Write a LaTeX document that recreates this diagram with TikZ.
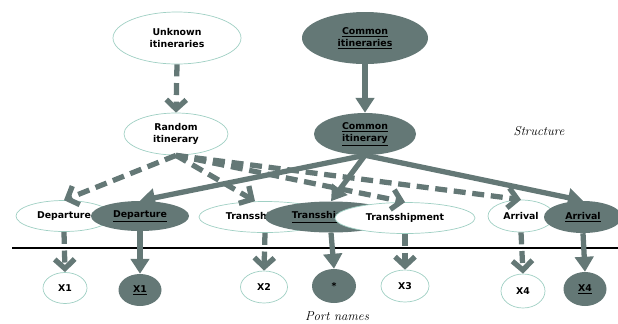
\documentclass[tikz,border=0pt]{standalone}
\usepackage{fontspec}
\newfontfamily\nodefont{DejaVu Sans}
\usetikzlibrary{shapes.geometric,arrows.meta}
\definecolor{slate}{RGB}{100,120,118}
\definecolor{rim}{RGB}{160,208,196}
\tikzset{
  open/.style={ellipse,draw=rim,line width=0.6pt,fill=white,inner sep=0pt,align=center,
    font=\nodefont\bfseries\fontsize{8}{10.5}\selectfont},
  known/.style={ellipse,fill=slate,inner sep=0pt,align=center,
    font=\nodefont\bfseries\fontsize{8}{10.5}\selectfont},
  guess/.style={draw=slate,line width=4.5pt,dash pattern=on 0.36cm off 0.2cm,
    -{Straight Barb[length=0.28cm,width=0.6cm]}},
  sure/.style={draw=slate,line width=4.5pt,-{Triangle[length=0.45cm,width=0.55cm]}},
  caption/.style={font=\itshape\fontsize{11}{13}\selectfont}
}
\begin{document}
\begin{tikzpicture}[x=0.03cm,y=-0.03cm]
  \useasboundingbox (0,0) rectangle (618,323);
  \node[open,minimum width=3.84cm,minimum height=1.56cm] (unk) at (177,38) {Unknown\\itineraries};
  \node[known,minimum width=3.78cm,minimum height=1.56cm] (comis) at (365,38) {\underline{Common}\\\underline{itineraries}};
  \node[open,minimum width=3.12cm,minimum height=1.26cm] (rand) at (176,134) {Random\\itinerary};
  \node[known,minimum width=3.06cm,minimum height=1.26cm] (comi) at (365,134) {\underline{Common}\\\underline{itinerary}};
  \node[caption] (struct) at (539,131) {Structure};

  \node[open,minimum width=2.88cm,minimum height=0.93cm] (depw) at (64,216) {Departure};
  \node[known,minimum width=2.94cm,minimum height=0.90cm] (depd) at (140,216) {\underline{Departure}};
  \node[open,minimum width=3.96cm,minimum height=0.93cm] (trw) at (265,217) {Transshipment};
  \node[known,minimum width=3.96cm,minimum height=0.93cm] (trd) at (331,217) {\underline{Transshipment}};
  \node[open,minimum width=4.2cm,minimum height=0.93cm] (trv) at (405,218) {Transshipment};
  \node[open,minimum width=1.98cm,minimum height=0.96cm] (arrw) at (521,216) {Arrival};
  \node[known,minimum width=2.34cm,minimum height=0.96cm] (arrd) at (583,217) {\underline{Arrival}};

  \coordinate (left) at (12,248);
  \coordinate (right) at (618,248);
  \draw[line width=1.6pt] (left) -- (right);

  \node[open,minimum width=1.32cm,minimum height=0.93cm] (xaw) at (65,288) {X1};
  \node[known,minimum width=1.29cm,minimum height=0.96cm] (xad) at (140,290) {\underline{X1}};
  \node[open,minimum width=1.41cm,minimum height=0.96cm] (xbw) at (264,287) {X2};
  \node[known,minimum width=1.32cm,minimum height=1.02cm] (xstar) at (334,286) {*};
  \node[open,minimum width=1.44cm,minimum height=0.96cm] (xcw) at (405,286) {X3};
  \node[open,minimum width=1.32cm,minimum height=1.02cm] (xdw) at (523,291) {X4};
  \node[known,minimum width=1.29cm,minimum height=1.02cm] (xdd) at (585,289) {\underline{X4}};
  \node[caption] (ports) at (337,316) {Port names};

  \draw[guess] (unk.south) -- (rand.north);
  \draw[sure] (comis.south) -- (comi.north);

  \draw[guess] (rand.south) -- (depw.north);
  \draw[guess] (rand.south) -- ([xshift=-0.3cm]trw.north);
  \draw[guess] (rand.south) -- (trv.north);
  \draw[guess] (rand.south) -- (arrw.north);

  \draw[sure] (comi.south) -- (depd.north);
  \draw[sure] (comi.south) -- (trd.north);
  \draw[sure] (comi.south) -- (arrd.north);

  \draw[guess] (depw.south) -- (xaw.north);
  \draw[sure] (depd.south) -- (xad.north);
  \draw[guess] (trw.south) -- (xbw.north);
  \draw[sure] (trd.south) -- (xstar.north);
  \draw[guess] (trv.south) -- (xcw.north);
  \draw[guess] (arrw.south) -- (xdw.north);
  \draw[sure] (arrd.south) -- (xdd.north);
\end{tikzpicture}
\end{document}
